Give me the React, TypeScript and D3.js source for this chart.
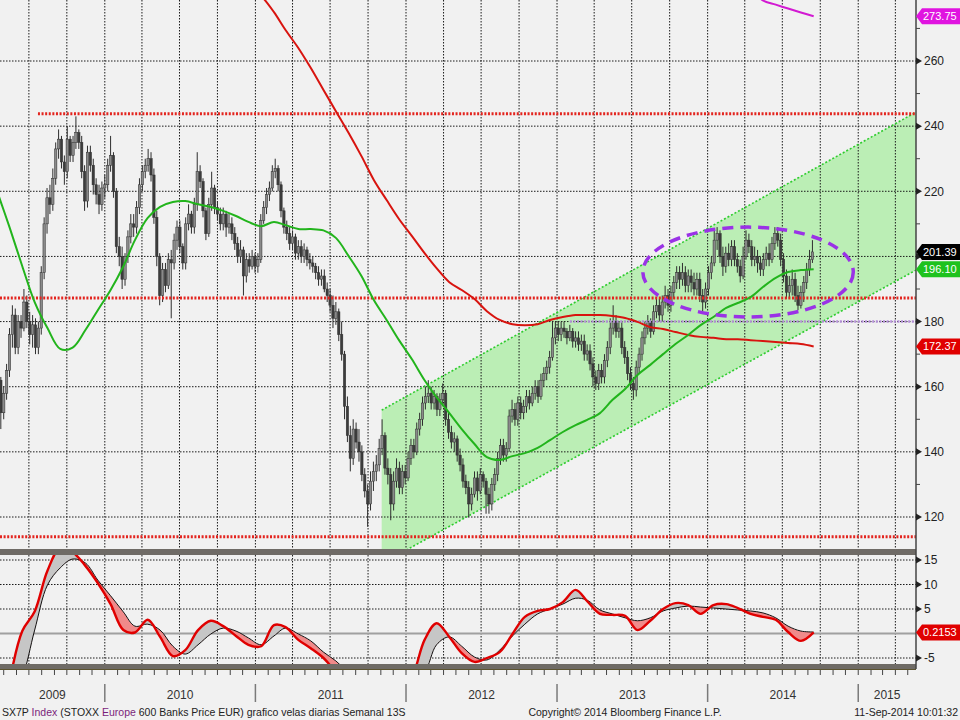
import * as d3 from "d3";
import { useEffect, useRef } from "react";

// weekly candles (Friday dates), open = previous close
const weekStart = "2009-04-17";
const firstOpen = 168;
const closes = [
  162, 152, 158, 165, 176, 182, 172, 180, 178, 186,
  180, 176, 179, 172, 178, 195, 210, 218, 216, 224,
  233, 236, 229, 226, 236, 231, 235, 238, 235, 226,
  217, 232, 228, 222, 219, 216, 221, 222, 228, 231,
  220, 203, 200, 193, 200, 206, 210, 209, 215, 222,
  226, 228, 230, 225, 212, 200, 188, 196, 191, 199,
  198, 205, 209, 203, 198, 210, 213, 209, 216, 226,
  223, 214, 207, 216, 221, 215, 213, 210, 213, 209,
  210, 207, 204, 200, 202, 194, 199, 197, 200, 197,
  199, 211, 215, 219, 221, 226, 227, 222, 214, 209,
  207, 204, 206, 201, 203, 200, 202, 199, 198, 197,
  195, 193, 194, 190, 188, 185, 181, 183, 176, 170,
  154, 145, 138, 147, 143, 140, 133, 128, 124, 131,
  134, 136, 141, 145, 135, 133, 124, 131, 135, 129,
  134, 132, 138, 142, 140, 147, 150, 155, 157, 158,
  155, 157, 153, 156, 158, 150, 146, 143, 144, 139,
  136, 131, 129, 124, 127, 132, 128, 133, 131, 127,
  124, 130, 133, 138, 142, 139, 141, 151, 153, 150,
  155, 152, 154, 157, 155, 158, 160, 157, 162, 164,
  166, 169, 175, 178, 176, 178, 177, 175, 177, 174,
  175, 173, 174, 170, 171, 167, 163, 161, 165, 163,
  168, 172, 178, 180, 177, 178, 172, 169, 164, 161,
  159, 166, 170, 175, 178, 180, 177, 183, 185, 182,
  186, 188, 185, 189, 192, 195, 193, 195, 191, 194,
  192, 190, 193, 188, 186, 190, 195, 198, 205, 207,
  200, 197, 201, 199, 203, 199, 197, 194, 200, 205,
  203, 199, 200, 198, 196, 199, 201, 199, 204, 207,
  205, 199, 194, 189, 191, 193, 188, 185, 189, 192,
  196, 199, 201.39,
];
const highs = [
  170, 163, 160, 167, 178, 185, 184, 182, 182, 190,
  188, 183, 182, 181, 180, 197, 212, 221, 222, 227,
  235, 239, 237, 231, 240, 237, 237, 243, 239, 237,
  228, 234, 234, 230, 224, 222, 223, 225, 230, 237,
  232, 221, 206, 203, 201, 208, 213, 213, 217, 224,
  228, 230, 233, 232, 227, 214, 201, 198, 198, 201,
  202, 207, 211, 211, 204, 212, 216, 214, 218, 232,
  228, 224, 215, 218, 226, 222, 217, 215, 215, 214,
  213, 212, 209, 206, 205, 203, 201, 201, 202, 201,
  201, 213, 217, 221, 223, 228, 230, 228, 223, 215,
  211, 209, 208, 207, 205, 205, 204, 203, 201, 200,
  198, 197, 196, 196, 192, 190, 188, 186, 184, 180,
  171, 157, 148, 150, 149, 147, 142, 135, 130, 134,
  137, 139, 144, 150, 146, 138, 135, 134, 138, 137,
  136, 136, 140, 144, 144, 149, 152, 157, 160, 162,
  160, 159, 158, 158, 161, 159, 152, 148, 146, 145,
  141, 138, 133, 131, 129, 134, 134, 135, 134, 132,
  129, 132, 135, 140, 144, 144, 143, 153, 156, 155,
  157, 157, 156, 159, 159, 160, 162, 162, 164, 166,
  168, 171, 180, 180, 180, 180, 180, 178, 179, 178,
  177, 177, 176, 176, 173, 173, 169, 165, 167, 167,
  170, 174, 181, 185, 182, 180, 180, 174, 171, 166,
  163, 168, 172, 177, 180, 182, 181, 185, 187, 187,
  188, 191, 190, 191, 194, 197, 197, 198, 197, 196,
  196, 195, 195, 195, 190, 192, 197, 200, 208, 209,
  208, 203, 203, 204, 205, 205, 201, 199, 203, 208,
  207, 205, 203, 202, 200, 201, 203, 204, 206, 209,
  209, 207, 201, 196, 194, 196, 195, 191, 191, 194,
  198, 202, 205,
];
const lows = [
  158, 147, 150, 156, 163, 172, 170, 170, 175, 177,
  178, 173, 172, 170, 170, 176, 193, 207, 213, 214,
  222, 230, 227, 222, 224, 229, 229, 233, 233, 224,
  214, 215, 226, 219, 216, 213, 214, 218, 220, 226,
  218, 201, 197, 190, 191, 198, 204, 206, 207, 213,
  220, 224, 226, 223, 210, 197, 185, 186, 189, 190,
  181, 196, 202, 201, 196, 196, 208, 207, 207, 214,
  221, 212, 205, 206, 214, 213, 211, 208, 208, 206,
  207, 205, 202, 198, 198, 188, 192, 195, 196, 195,
  195, 198, 210, 213, 217, 220, 224, 220, 212, 207,
  205, 202, 202, 199, 199, 198, 198, 197, 196, 195,
  193, 191, 191, 189, 186, 183, 178, 179, 174, 168,
  150, 143, 134, 136, 141, 137, 131, 126, 117, 122,
  128, 131, 134, 139, 133, 130, 119, 122, 129, 127,
  127, 130, 131, 136, 138, 139, 145, 148, 153, 155,
  153, 153, 151, 151, 154, 148, 144, 141, 140, 137,
  134, 129, 127, 120, 122, 126, 125, 127, 129, 121,
  121, 122, 128, 131, 136, 137, 137, 140, 149, 148,
  148, 150, 150, 152, 153, 154, 156, 155, 156, 160,
  162, 164, 168, 173, 174, 174, 175, 173, 174, 172,
  172, 171, 171, 168, 168, 165, 160, 159, 159, 161,
  161, 166, 170, 176, 175, 175, 170, 167, 162, 159,
  156, 157, 164, 168, 173, 176, 175, 176, 181, 180,
  180, 184, 183, 183, 187, 190, 190, 191, 189, 189,
  189, 188, 188, 186, 183, 184, 188, 193, 197, 202,
  198, 194, 195, 197, 197, 197, 195, 192, 193, 199,
  201, 197, 197, 195, 194, 194, 197, 197, 198, 202,
  203, 197, 192, 187, 187, 188, 186, 183.5, 184, 186,
  190, 194, 198,
];

// moving averages, one value per month (mid-month)
const greenMAStart = "2009-04-15";
const greenMA = [
  220, 209, 197, 186, 178, 171.6, 172, 177.4, 183.5,
  189.7, 197, 205, 211.8, 215.2, 216.7, 217, 216, 215.2, 214, 212.4, 210.6,
  209.3, 210.6, 209.6, 208.4, 208.4, 208, 205.7, 200.1, 194, 186.6, 180.5, 174.3,
  168.5, 162, 156.8, 151.9, 147, 142.4, 138.4, 137.5, 138.7, 139.6, 141.2, 143.6,
  146.1, 148.2, 149.8, 151.9, 155.9, 159.3, 163.6, 166.7, 170, 173.1, 175.9, 178.9,
  181.4, 184.2, 185.7, 187.5, 190.6, 193.4, 195.2, 195.8, 196.1,
];
const redMAStart = "2010-12-15";
const redMA = [
  283.3,
  280, 275, 269.5, 264, 257.9, 251.1, 244.6, 237.9, 230.8, 223.5, 217.3, 211.5,
  206.3, 201, 196.4, 192.1, 189.7, 186.9, 183.2, 180.5, 179.2, 178.9, 179.2, 180.5,
  181.4, 182, 182, 182, 181.7, 181.1, 179.9, 178.3, 177.7, 176.8, 175.9, 175.3,
  175, 174.6, 174.6, 174.3, 174, 173.7, 173.4, 173.1, 172.37,
];
const magentaMAStart = "2014-04-15";
const magentaMA = [282.5, 278.6, 277.3, 276.1, 274.9, 273.75];

// lower panel oscillator (monthly)
const oscStart = "2009-05-15";
const oscMain = [
  -10, 0.5, 4.5, 12.8, 17.5, 16.6, 13.8, 10.3,
  6.0, 0.7, 0.2, 2.8, -0.7, -4.6, -3.4, 0.7, 2.6, 1.5, -0.5, -2.3,
  -2.6, 1.7, 1.3, -1.3, -3.0, -5.0, -7.8, -10, -12, -13, -13, -12,
  -9, -1.3, 2.1, -0.7, -4.0, -5.8, -5.0, -3.8, -0.1, 3.4, 4.6, 5.0,
  6.4, 8.9, 6.6, 4.0, 3.8, 3.6, 0.7, 2.6, 5.0, 6.2, 5.8, 4.0,
  5.8, 6.0, 5.2, 4.0, 3.4, 2.8, 0.3, -1.5, 0.2153,
];
const oscSignal = [
  -14, -9, 0.7, 9.9, 13.4, 15.2, 14.4, 10.9,
  7.7, 4.4, 1.5, 1.9, 0.7, -2.6, -4.2, -2.3, -0.1, 1.1, 0.5, -0.9,
  -2.3, -0.5, 1.1, -0.1, -1.5, -3.8, -5.6, -8, -10, -11, -12, -11,
  -9.5, -7.9, -2.3, -0.7, -2.6, -4.8, -5.4, -3.4, -0.5, 1.9, 4.0, 5.0,
  6.0, 7.2, 6.8, 4.8, 4.0, 3.2, 2.6, 3.2, 4.6, 5.2, 5.6, 5.4,
  5.2, 5.0, 4.8, 4.6, 4.2, 3.2, 1.5, 0.5, 0.3,
];

// drawn annotations
const levelValues = [243.8, 187.2, 113.9];
const levelStarts = ["2009-07-23", "2009-04-22", "2009-04-22"];
const purpleLevel = 180;
const purpleStart = "2013-02-01";
const channelDates = ["2011-11-03", "2015-05-21"];
const channelUpper = [152.8, 244.3];
const channelLower = [105.7, 195.8];
const ellipseDates = ["2013-07-28", "2014-12-20"];
const ellipseValues = [181.4, 209];

const priceTicks = [260, 240, 220, 200, 180, 160, 140, 120];
const oscTicks = [15, 10, 5, -5];
const badgeValues = [273.75, 201.39, 196.1, 172.37];
const badgeColors = ["#e014e0", "#000000", "#1ec21e", "#e00000"];
const oscBadge = 0.2153;

const FONT = '"Liberation Sans", Arial, sans-serif';

export default function App() {
  const svgRef = useRef<SVGSVGElement>(null);

  useEffect(() => {
    const svg = d3.select(svgRef.current);
    svg.selectAll("*").remove();

    const W = 960;
    const H = 720;
    const plotR = 916;
    const priceBottom = 549;
    const oscTop = 555;
    const oscBottom = 664;
    const parse = d3.timeParse("%Y-%m-%d");

    const x = d3
      .scaleTime()
      .domain([new Date(2009, 3, 22), new Date(2015, 4, 21)])
      .range([0, plotR]);
    const y = d3.scaleLinear().domain([120, 260]).range([517, 61]);
    const yo = d3.scaleLinear().domain([-5, 15]).range([658, 560]);

    svg.append("rect").attr("width", W).attr("height", H).attr("fill", "#f1f1f1");

    const defs = svg.append("defs");
    defs.append("clipPath").attr("id", "clipPrice")
      .append("rect").attr("x", 0).attr("y", 0).attr("width", plotR).attr("height", priceBottom);
    defs.append("clipPath").attr("id", "clipOsc")
      .append("rect").attr("x", 0).attr("y", oscTop).attr("width", plotR).attr("height", oscBottom - oscTop);

    const monthly = (start: string, n: number) =>
      d3.range(n).map((i) => d3.timeMonth.offset(parse(start)!, i));

    const quarters = d3.timeMonth.every(3)!.range(x.domain()[0], x.domain()[1]);
    const months = d3.timeMonth.range(x.domain()[0], x.domain()[1]);

    const label = (px: number, py: number, str: string, fill: string, size: number, anchor = "start") =>
      svg.append("text").attr("x", px).attr("y", py).attr("dy", "0.36em")
        .attr("text-anchor", anchor)
        .attr("font-family", FONT).attr("font-size", size).attr("fill", fill)
        .text(str);

    // ---------- price panel ----------
    const price = svg.append("g").attr("clip-path", "url(#clipPrice)");

    // channel fill
    const c0 = parse(channelDates[0])!;
    const c1 = parse(channelDates[1])!;
    const chPoly: [number, number][] = [
      [x(c0), y(channelUpper[0])],
      [x(c1), y(channelUpper[1])],
      [x(c1), y(channelLower[1])],
      [x(c0), y(channelLower[0])],
    ];
    price.append("path")
      .attr("d", "M" + chPoly.map((p) => p.join(",")).join("L") + "Z")
      .attr("fill", "#a8eca0")
      .attr("opacity", 0.75);

    // grid
    price.selectAll(".hg").data(priceTicks).enter().append("line")
      .attr("x1", 0).attr("x2", plotR)
      .attr("y1", (d) => y(d)).attr("y2", (d) => y(d))
      .attr("stroke", "#1a1a1a").attr("stroke-width", 1).attr("stroke-dasharray", "1.5,1.5");
    price.selectAll(".vg").data(quarters).enter().append("line")
      .attr("x1", (d) => x(d)).attr("x2", (d) => x(d))
      .attr("y1", 0).attr("y2", priceBottom)
      .attr("stroke", "#1a1a1a").attr("stroke-width", 1).attr("stroke-dasharray", "1.5,1.5");

    // channel edges
    [channelUpper, channelLower].forEach((vals) => {
      price.append("line")
        .attr("x1", x(c0)).attr("y1", y(vals[0]))
        .attr("x2", x(c1)).attr("y2", y(vals[1]))
        .attr("stroke", "#2ecc2e").attr("stroke-width", 1.6).attr("stroke-dasharray", "2,2");
    });

    // candles
    const ws = parse(weekStart)!;
    const candles = closes.map((c, i) => {
      const open = i === 0 ? firstOpen : closes[i - 1];
      return {
        date: d3.timeDay.offset(ws, i * 7),
        open,
        close: c,
        high: Math.max(highs[i], open, c),
        low: Math.min(lows[i], open, c),
      };
    });
    const cg = price.append("g");
    cg.selectAll(".wick").data(candles).enter().append("line")
      .attr("x1", (d) => x(d.date)).attr("x2", (d) => x(d.date))
      .attr("y1", (d) => y(d.high)).attr("y2", (d) => y(d.low))
      .attr("stroke", "#2e2e2e").attr("stroke-width", 1);
    cg.selectAll(".body").data(candles).enter().append("rect")
      .attr("x", (d) => x(d.date) - 1.2)
      .attr("width", 2.4)
      .attr("y", (d) => y(Math.max(d.open, d.close)))
      .attr("height", (d) => Math.max(1, Math.abs(y(d.open) - y(d.close))))
      .attr("fill", (d) => (d.close >= d.open ? "#8a8a8a" : "#3c3c3c"))
      .attr("stroke", "#2e2e2e").attr("stroke-width", 0.5);

    // horizontal levels
    levelValues.forEach((v, i) => {
      price.append("line")
        .attr("x1", x(parse(levelStarts[i])!)).attr("x2", plotR)
        .attr("y1", y(v)).attr("y2", y(v))
        .attr("stroke", "#e3241e").attr("stroke-width", 3).attr("stroke-dasharray", "2,1.6");
    });
    price.append("line")
      .attr("x1", x(parse(purpleStart)!)).attr("x2", plotR)
      .attr("y1", y(purpleLevel)).attr("y2", y(purpleLevel))
      .attr("stroke", "#b48fd8").attr("stroke-width", 2.5).attr("stroke-dasharray", "2,1.6");

    // moving averages
    const maLine = d3.line<[Date, number]>()
      .x((d) => x(d[0])).y((d) => y(d[1]))
      .curve(d3.curveCatmullRom);
    const series: [string, number[], string, number][] = [
      [redMAStart, redMA, "#d8140f", 2],
      [greenMAStart, greenMA, "#22b41c", 2],
      [magentaMAStart, magentaMA, "#d21ad2", 2],
    ];
    series.forEach(([start, vals, color, w]) => {
      const dates = monthly(start, vals.length);
      price.append("path")
        .attr("d", maLine(dates.map((d, i) => [d, vals[i]] as [Date, number])))
        .attr("fill", "none").attr("stroke", color).attr("stroke-width", w);
    });

    // ellipse
    const ex0 = x(parse(ellipseDates[0])!);
    const ex1 = x(parse(ellipseDates[1])!);
    price.append("ellipse")
      .attr("cx", (ex0 + ex1) / 2)
      .attr("cy", (y(ellipseValues[0]) + y(ellipseValues[1])) / 2)
      .attr("rx", (ex1 - ex0) / 2)
      .attr("ry", (y(ellipseValues[0]) - y(ellipseValues[1])) / 2)
      .attr("fill", "none").attr("stroke", "#9a32e6")
      .attr("stroke-width", 3.5).attr("stroke-dasharray", "11,7");

    // ---------- oscillator panel ----------
    const osc = svg.append("g").attr("clip-path", "url(#clipOsc)");
    osc.selectAll(".ohg").data(oscTicks).enter().append("line")
      .attr("x1", 0).attr("x2", plotR)
      .attr("y1", (d) => yo(d)).attr("y2", (d) => yo(d))
      .attr("stroke", "#1a1a1a").attr("stroke-width", 1).attr("stroke-dasharray", "1.5,1.5");
    osc.selectAll(".ovg").data(quarters).enter().append("line")
      .attr("x1", (d) => x(d)).attr("x2", (d) => x(d))
      .attr("y1", oscTop).attr("y2", oscBottom)
      .attr("stroke", "#1a1a1a").attr("stroke-width", 1).attr("stroke-dasharray", "1.5,1.5");
    osc.append("line")
      .attr("x1", 0).attr("x2", plotR).attr("y1", yo(0)).attr("y2", yo(0))
      .attr("stroke", "#a0a0a0").attr("stroke-width", 2);

    const oDates = monthly(oscStart, oscMain.length);
    const pts = oDates.map((d, i) => ({ d, m: oscMain[i], s: oscSignal[i] }));
    type P = (typeof pts)[number];
    const curve = d3.curveCatmullRom;
    defs.append("clipPath").attr("id", "aboveSig").append("path")
      .attr("d", d3.area<P>().x((p) => x(p.d)).y0(oscTop - 60).y1((p) => yo(p.s)).curve(curve)(pts));
    defs.append("clipPath").attr("id", "belowSig").append("path")
      .attr("d", d3.area<P>().x((p) => x(p.d)).y0(oscBottom + 80).y1((p) => yo(p.s)).curve(curve)(pts));
    const between = d3.area<P>().x((p) => x(p.d)).y0((p) => yo(p.s)).y1((p) => yo(p.m)).curve(curve);
    osc.append("g").attr("clip-path", "url(#aboveSig)").append("path")
      .attr("d", between(pts)).attr("fill", "#c6c6c6");
    osc.append("g").attr("clip-path", "url(#belowSig)").append("path")
      .attr("d", between(pts)).attr("fill", "#f08a8a");
    osc.append("path")
      .attr("d", d3.line<P>().x((p) => x(p.d)).y((p) => yo(p.s)).curve(curve)(pts))
      .attr("fill", "none").attr("stroke", "#111").attr("stroke-width", 1);
    osc.append("path")
      .attr("d", d3.line<P>().x((p) => x(p.d)).y((p) => yo(p.m)).curve(curve)(pts))
      .attr("fill", "none").attr("stroke", "#e00000").attr("stroke-width", 2.4);

    // panel separators
    svg.append("rect").attr("x", 0).attr("y", 549).attr("width", plotR).attr("height", 6).attr("fill", "#6f6b66");
    svg.append("rect").attr("x", 0).attr("y", 664).attr("width", plotR).attr("height", 5).attr("fill", "#6f6b66");
    svg.append("line").attr("x1", 0).attr("x2", plotR).attr("y1", 669.5).attr("y2", 669.5)
      .attr("stroke", "#5d5430").attr("stroke-width", 1);

    // right axis
    svg.append("line").attr("x1", plotR).attr("x2", plotR).attr("y1", 0).attr("y2", 669)
      .attr("stroke", "#444").attr("stroke-width", 1.5);
    const minor = d3.range(130, 280, 20);
    svg.selectAll(".mt").data(minor).enter().append("line")
      .attr("x1", plotR).attr("x2", plotR + 4)
      .attr("y1", (d) => y(d)).attr("y2", (d) => y(d))
      .attr("stroke", "#444").attr("stroke-width", 1);
    const arrow = (yy: number) => `M${plotR},${yy - 3.5}L${plotR + 6},${yy}L${plotR},${yy + 3.5}Z`;
    const badgeYs = badgeValues.map((v) => y(v));
    priceTicks.forEach((t) => {
      svg.append("path").attr("d", arrow(y(t))).attr("fill", "#222");
      // labels covered by a value badge are not shown (as in the terminal)
      if (badgeYs.some((by) => Math.abs(by - y(t)) < 14)) return;
      label(plotR + 8, y(t), String(t), "#222", 12);
    });
    oscTicks.forEach((t) => {
      svg.append("path").attr("d", arrow(yo(t))).attr("fill", "#222");
      label(plotR + 8, yo(t), String(t), "#222", 12);
    });

    const badge = (yy: number, color: string, text: string) => {
      svg.append("path")
        .attr("d", `M${plotR},${yy}L${plotR + 6},${yy - 8}L${W},${yy - 8}L${W},${yy + 8}L${plotR + 6},${yy + 8}Z`)
        .attr("fill", color);
      label(plotR + 7, yy, text, "#fff", 11);
    };
    badgeValues.forEach((v, i) => badge(y(v), badgeColors[i], v.toFixed(2)));
    badge(yo(oscBadge), "#e00000", String(oscBadge));

    // bottom time axis
    svg.selectAll(".mtick").data(months).enter().append("line")
      .attr("x1", (d) => x(d)).attr("x2", (d) => x(d))
      .attr("y1", 670).attr("y2", 675)
      .attr("stroke", "#444").attr("stroke-width", 1);
    const years = d3.timeYear.range(new Date(2009, 0, 1), new Date(2016, 0, 1));
    years.forEach((yr) => {
      const xs = Math.max(0, x(yr));
      const xe = Math.min(plotR, x(d3.timeYear.offset(yr, 1)));
      if (xe <= xs) return;
      if (x(yr) > 0) {
        svg.append("line").attr("x1", x(yr)).attr("x2", x(yr)).attr("y1", 684).attr("y2", 702)
          .attr("stroke", "#7a7a7a").attr("stroke-width", 1.5);
      }
      label((xs + xe) / 2, 695, d3.timeFormat("%Y")(yr), "#333", 12, "middle");
    });

    // footer
    const foot = svg.append("text").attr("x", 2).attr("y", 712).attr("dy", "0.36em")
      .attr("font-family", FONT).attr("font-size", 10.5).attr("fill", "#222");
    foot.append("tspan").text("SX7P ");
    foot.append("tspan").attr("fill", "#7b1f7b").text("Index");
    foot.append("tspan").text(" (STOXX ");
    foot.append("tspan").attr("fill", "#7b1f7b").text("Europe");
    foot.append("tspan").text(" 600 Banks Price EUR) grafico velas diarias  Semanal 13S");
    label(625, 712, "Copyright© 2014 Bloomberg Finance L.P.", "#222", 10.5, "middle");
    label(958, 712, "11-Sep-2014 10:01:32", "#222", 10.5, "end");
  }, []);

  return (
    <svg
      ref={svgRef}
      width={960}
      height={720}
      style={{ position: "absolute", left: 0, top: 0, display: "block" }}
    />
  );
}
